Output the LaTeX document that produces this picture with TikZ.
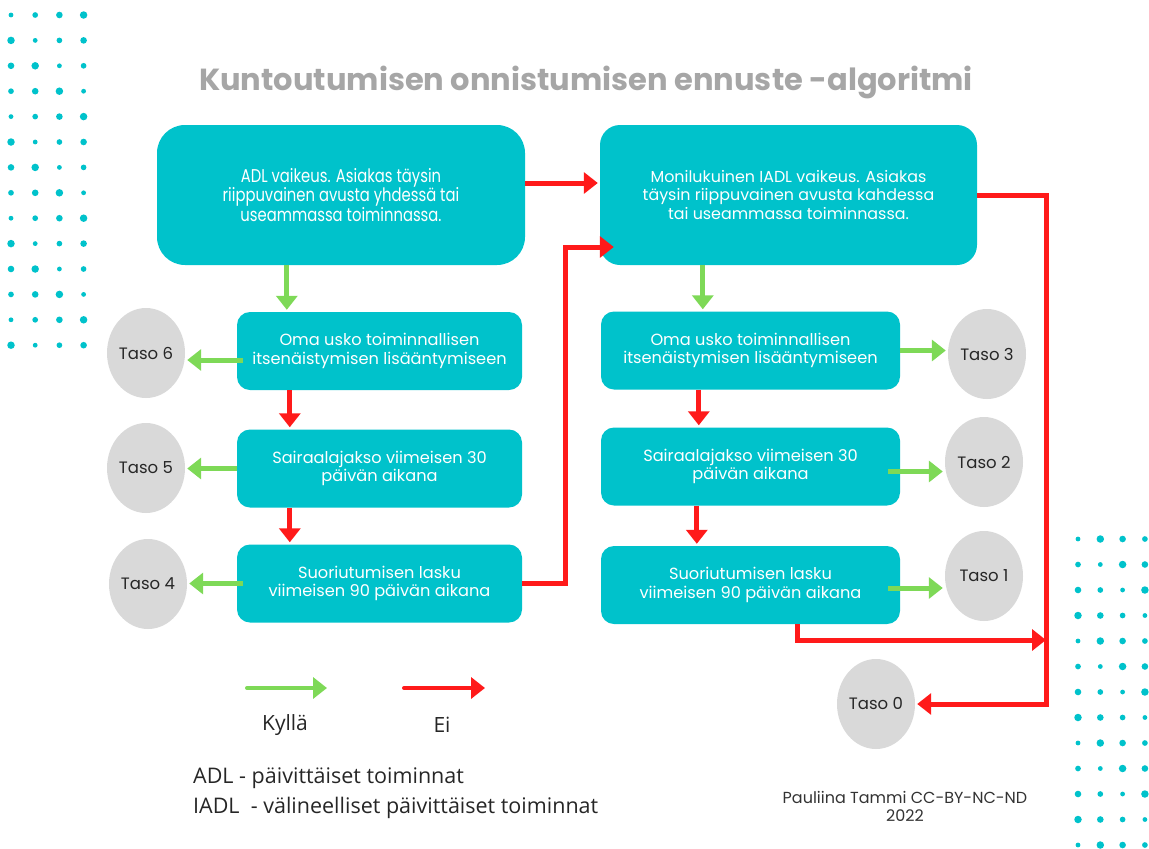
\documentclass[tikz,border=0pt]{standalone}
\usepackage{fontspec}
\setmainfont{Poppins}
\newfontfamily\legendfont{Open Sans}
\usetikzlibrary{shapes.geometric,arrows.meta}
\definecolor{turkoosi}{HTML}{00C2CB}
\definecolor{harmaa}{HTML}{D9D9D9}
\definecolor{otsikko}{HTML}{A6A6A6}
\definecolor{punainen}{HTML}{FF1A1A}
\definecolor{vihrea}{HTML}{7ED957}

\begin{document}
\begin{tikzpicture}[x=1pt,y=-1pt]
    \tikzstyle{b11} = [fill=turkoosi, text=white, align=center, inner sep=0pt]
    \tikzstyle{b12} = [b11, rounded corners=28pt, minimum height=140pt]
    \tikzstyle{b13} = [b11, rounded corners=13pt, minimum height=78pt, font=\fontsize{16.2}{18.5}\selectfont]
    \tikzstyle{t11} = [ellipse, fill=harmaa, minimum width=78pt, minimum height=90pt, inner sep=0pt, text=black!85, font=\fontsize{16.5}{19}\selectfont]
    \tikzstyle{a11} = [line width=5pt, shorten >=2pt, -{Triangle[length=14pt,width=21pt]}]
    \tikzstyle{a12} = [a11, vihrea]
    \tikzstyle{a13} = [a11, punainen]
    \useasboundingbox (0,0) rectangle (1149,849);
    % pisteet reunoilla
    \foreach \i in {0, 1, 2, 3}
    \foreach \j in {0, ..., 13}
    {
      \pgfmathsetmacro\r{2.4 + 0.45 * mod(\i * 5 + \j * 3, 4)}
      \fill[turkoosi] (11 + \i * 24.2, 15 + \j * 25.4) circle[radius=\r];
    }
    \foreach \i in {0, 1, 2, 3}
    \foreach \j in {0, ..., 12}
    {
      \pgfmathsetmacro\r{2.4 + 0.45 * mod(\i * 3 + \j * 5, 4)}
      \fill[turkoosi] (1078 + \i * 22.3, 539 + \j * 25.5) circle[radius=\r];
    }
    \node (otsikko) at (586, 82) [text=otsikko, font=\fontsize{30.5}{34}\bfseries\selectfont] {Kuntoutumisen onnistumisen ennuste -algoritmi};
    % ylalaatikot
    \node (adl) at (341, 195) [b12, minimum width=368pt, font=\fontsize{18.5}{19.5}\addfontfeatures{FakeStretch=0.8}\selectfont] {ADL vaikeus. Asiakas täysin\\riippuvainen avusta yhdessä tai\\useammassa toiminnassa.};
    \node (iadl) at (788.5, 195) [b12, rounded corners=20pt, minimum width=377pt, font=\fontsize{15.9}{18.5}\selectfont] {Monilukuinen IADL vaikeus. Asiakas\\täysin riippuvainen avusta kahdessa\\tai useammassa toiminnassa.};
    % vasen sarake
    \node (l1) at (379.5, 351) [b13, minimum width=285pt] {Oma usko toiminnallisen\\itsenäistymisen lisääntymiseen};
    \node (l2) at (379.5, 468.5) [b13, minimum width=285pt] {Sairaalajakso viimeisen 30\\päivän aikana};
    \node (l3) at (379.5, 583.5) [b13, minimum width=285pt] {Suoriutumisen lasku\\viimeisen 90 päivän aikana};
    % oikea sarake
    \node (r1) at (750.5, 350.5) [b13, minimum width=299pt] {Oma usko toiminnallisen\\itsenäistymisen lisääntymiseen};
    \node (r2) at (750.5, 466.5) [b13, minimum width=299pt] {Sairaalajakso viimeisen 30\\päivän aikana};
    \node (r3) at (750.5, 585) [b13, minimum width=299pt] {Suoriutumisen lasku\\viimeisen 90 päivän aikana};
    % tasot
    \node (taso6) at (146, 353) [t11] {Taso 6};
    \node (taso5) at (146, 468) [t11] {Taso 5};
    \node (taso4) at (148, 584) [t11] {Taso 4};
    \node (taso3) at (987, 354) [t11] {Taso 3};
    \node (taso2) at (984, 462) [t11] {Taso 2};
    \node (taso1) at (984, 576) [t11] {Taso 1};
    \node (taso0) at (876, 704) [t11] {Taso 0};
    \coordinate (kisko) at (1046, 195);
    \coordinate (liitos) at (1046, 640);
    % nuolet, kylla
    \draw[a12] ([xshift=50pt]l1.north west |- adl.south) -- ([xshift=50pt]l1.north west);
    \draw[a12] ([xshift=102pt]r1.north west |- iadl.south) -- ([xshift=102pt]r1.north west);
    \draw[a12] ([xshift=6pt,yshift=-9pt]l1.west) -- ([yshift=-9pt]l1.west -| taso6.east);
    \draw[a12] (l2.west) -- (l2.west -| taso5.east);
    \draw[a12] ([xshift=6pt]l3.west) -- (l3.west -| taso4.east);
    \draw[a12] (r1.east) -- (r1.east -| taso3.west);
    \draw[a12] ([xshift=-12pt,yshift=-5pt]r2.east) -- ([yshift=-5pt]r2.east -| taso2.west);
    \draw[a12] ([xshift=-12pt,yshift=-3pt]r3.east) -- ([yshift=-3pt]r3.east -| taso1.west);
    % nuolet, ei
    \draw[a13] ([xshift=53pt]l1.south west) -- ([xshift=53pt]l2.north west);
    \draw[a13] ([xshift=53pt]l2.south west) -- ([xshift=53pt]l3.north west);
    \draw[a13] ([xshift=98pt]r1.south west) -- ([xshift=98pt]r2.north west);
    \draw[a13] ([xshift=96pt]r2.south west) -- ([xshift=96pt]r3.north west);
    \draw[a13] ([yshift=12pt]adl.east) -- ([yshift=12pt]adl.east -| iadl.west);
    \draw[a13, shorten >=-14pt] (l3.east) -- ++(43, 0) |- ([yshift=-52pt]iadl.west);
    \draw[a13] (iadl.east) -- (kisko) |- (taso0.east);
    \draw[a13, shorten >=0pt] ([xshift=46.5pt]r3.south) |- (liitos);
    % selite
    \coordinate (kyllaA) at (247, 688);
    \coordinate (kyllaB) at (327, 688);
    \coordinate (eiA) at (404, 688);
    \coordinate (eiB) at (485, 688);
    \draw[a12, line width=4pt, line cap=round, shorten >=0pt] (kyllaA) -- (kyllaB);
    \draw[a13, line width=4pt, line cap=round, shorten >=0pt] (eiA) -- (eiB);
    \node (kylla) at (285, 725) [font=\legendfont\fontsize{21}{25}\selectfont, text=black!85] {Kyllä};
    \node (ei) at (442, 725) [font=\legendfont\fontsize{21}{25}\selectfont, text=black!85] {Ei};
    \node (selite1) at (193, 778) [anchor=west, inner sep=0pt, font=\legendfont\fontsize{21.5}{25}\selectfont, text=black!85] {ADL - päivittäiset toiminnat};
    \node (selite2) at (193, 808) [anchor=west, inner sep=0pt, font=\legendfont\fontsize{21.5}{25}\selectfont, text=black!85] {IADL \ - välineelliset päivittäiset toiminnat};
    \node (tekija) at (905, 806) [align=center, text=black!80, font=\fontsize{16}{18}\selectfont] {Pauliina Tammi CC-BY-NC-ND\\2022};
\end{tikzpicture}
\end{document}
